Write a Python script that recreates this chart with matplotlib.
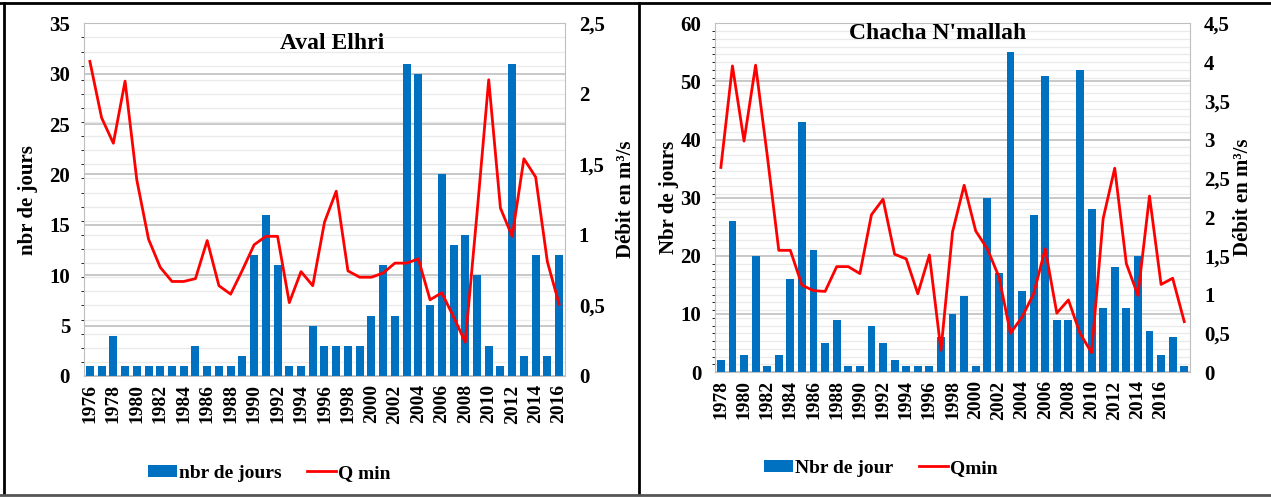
import numpy as np
import matplotlib
matplotlib.use("Agg")
import matplotlib.pyplot as plt
from matplotlib.ticker import FixedLocator, MultipleLocator, FuncFormatter
from matplotlib.lines import Line2D

plt.rcParams['font.family'] = ['Liberation Serif', 'DejaVu Serif']
plt.rcParams['font.weight'] = 'bold'
plt.rcParams['axes.labelweight'] = 'bold'

# Aval Elhri
years_a = list(range(1976, 2017))
jours_a = [1, 1, 4, 1, 1, 1, 1, 1, 1, 3, 1, 1, 1, 2, 12, 16, 11, 1, 1, 5,
           3, 3, 3, 3, 6, 11, 6, 31, 30, 7, 20, 13, 14, 10, 3, 1, 31, 2, 12, 2, 12]
qmin_a = [2.23, 1.83, 1.65, 2.09, 1.39, 0.97, 0.77, 0.67, 0.67, 0.69, 0.96, 0.64,
          0.58, 0.75, 0.93, 0.99, 0.99, 0.52, 0.74, 0.64, 1.09, 1.31, 0.745, 0.70,
          0.70, 0.73, 0.80, 0.80, 0.83, 0.54, 0.59, 0.42, 0.24, 1.15, 2.10, 1.19,
          0.99, 1.54, 1.41, 0.81, 0.51]

# Chacha N'mallah
years_c = list(range(1978, 2019))
jours_c = [2, 26, 3, 20, 1, 3, 16, 43, 21, 5, 9, 1, 1, 8, 5, 2, 1, 1, 1, 6,
           10, 13, 1, 30, 17, 55, 14, 27, 51, 9, 9, 52, 28, 11, 18, 11, 20, 7, 3, 6, 1]
qmin_c = [2.64, 3.95, 2.98, 3.96, 2.8, 1.57, 1.57, 1.12, 1.05, 1.04, 1.36, 1.36,
          1.27, 2.03, 2.23, 1.52, 1.46, 1.01, 1.51, 0.28, 1.81, 2.41, 1.82, 1.59,
          1.23, 0.50, 0.71, 1.01, 1.59, 0.76, 0.93, 0.50, 0.25, 1.98, 2.63, 1.40,
          0.99, 2.27, 1.13, 1.21, 0.65]

BLUE = '#0070C0'
RED = '#FF0000'
GRID = '#BFBFBF'
MINOR = '#EBEBEB'


def comma(v, pos):
    s = ('%.1f' % v).rstrip('0').rstrip('.')
    return s.replace('.', ',')


def panel(rect, years, jours, qmin, ymax, ystep, qmax, title, title_xy,
          ylabel, labels, legend_xy, last_label, lpad, rpad):
    ax = fig.add_axes(rect)
    x = np.arange(len(years))
    bars = ax.bar(x, jours, width=0.68, color=BLUE, zorder=2)
    ax.set_xlim(-0.5, len(years) - 0.5)
    ax.set_ylim(0, ymax)
    ax.yaxis.set_major_locator(MultipleLocator(ystep))
    # minor grid follows 0.1 steps of the secondary axis
    ax.yaxis.set_minor_locator(FixedLocator(np.arange(0, qmax + 0.01, 0.1) * ymax / qmax))
    ax.grid(axis='y', which='major', color=GRID, lw=1.2, zorder=0)
    ax.grid(axis='y', which='minor', color=MINOR, lw=1.0, zorder=0)
    ax.set_axisbelow(True)
    ticks = [i for i, y in enumerate(years) if (y - years[0]) % 2 == 0 and y <= last_label]
    ax.set_xticks(ticks)
    ax.set_xticklabels([str(years[i]) for i in ticks], rotation=90, fontsize=14)
    ax.tick_params(axis='both', length=0)
    ax.tick_params(axis='y', labelsize=15, pad=10)
    ax.tick_params(axis='x', pad=6)
    ax.set_ylabel(ylabel, fontsize=15, fontweight='bold', labelpad=lpad)
    for s in ax.spines.values():
        s.set_color(GRID)

    ax2 = ax.twinx()
    line, = ax2.plot(x, qmin, color=RED, lw=2)
    ax2.set_ylim(0, qmax)
    ax2.yaxis.set_major_locator(MultipleLocator(0.5))
    ax2.yaxis.set_major_formatter(FuncFormatter(comma))
    ax2.tick_params(axis='y', length=0, labelsize=15, pad=10)
    ax2.set_ylabel('Débit en m³/s', fontsize=15, fontweight='bold', labelpad=rpad)
    for s in ax2.spines.values():
        s.set_visible(False)

    ax.text(title_xy[0], title_xy[1], title, transform=ax.transAxes,
            ha='center', va='center', fontsize=17, fontweight='bold')

    ax.legend([bars, line], labels, loc='center', bbox_to_anchor=legend_xy,
              bbox_transform=fig.transFigure, ncol=2, frameon=False,
              handlelength=1.5, handleheight=0.6, handletextpad=0.1,
              columnspacing=1.3, prop={'size': 14, 'weight': 'bold'})
    return ax


fig = plt.figure(figsize=(12.71, 4.97), dpi=100)

panel([0.0661, 0.2435, 0.3784, 0.7096], years_a, jours_a, qmin_a, 35, 5, 2.5,
      'Aval Elhri', (0.516, 0.943), 'nbr de jours',
      ['nbr de jours', 'Q min'], (0.212, 0.048), 2016, 8, 8)

panel([0.5626, 0.2515, 0.3737, 0.7016], years_c, jours_c, qmin_c, 60, 10, 4.5,
      "Chacha N'mallah", (0.469, 0.971), 'Nbr de jours',
      ['Nbr de jour', 'Qmin'], (0.693, 0.058), 2016, 1, 2)

# panel frames
W, H = 1271.0, 497.0
def fline(x0, y0, x1, y1, color='black', lw=2.0):
    fig.add_artist(Line2D([x0 / W, x1 / W], [1 - y0 / H, 1 - y1 / H],
                          color=color, lw=lw, transform=fig.transFigure))

fline(0, 3, W, 3)
fline(4, 3, 4, 494)
fline(638.5, 3, 638.5, 494)
fline(0, 495, W, 495, color='#555555', lw=2.0)

fig.savefig('out.png', dpi=100)
